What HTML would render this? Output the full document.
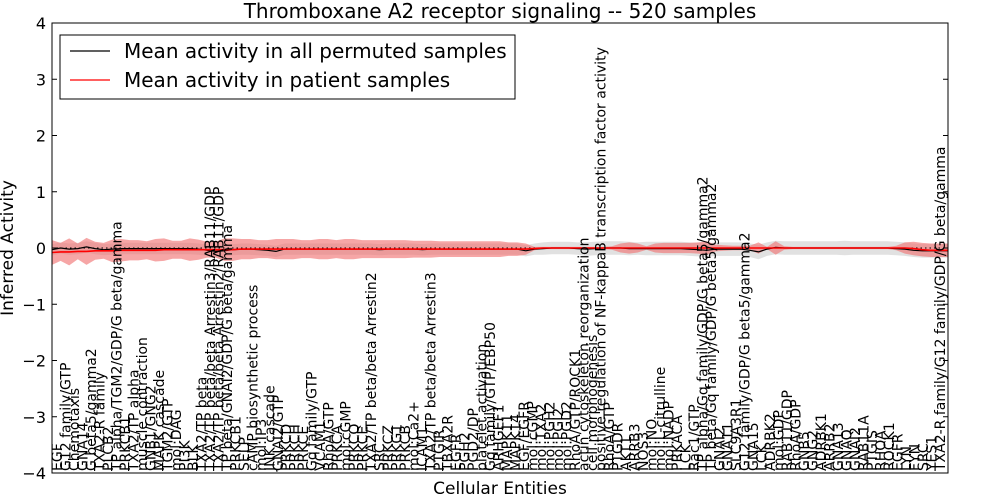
<!DOCTYPE html>
<html><head><meta charset="utf-8"><style>
html,body{margin:0;padding:0;background:#fff;}
svg{display:block;font-family:"DejaVu Sans","Liberation Sans",sans-serif;}
</style></head><body>
<svg id="chart" width="1000" height="500" viewBox="0 0 1000 500">
<defs><clipPath id="pc"><rect x="52" y="23" width="896" height="450"/></clipPath></defs>
<rect x="0" y="0" width="1000" height="500" fill="#fff"/>
<text x="500" y="18" font-size="20" text-anchor="middle">Thromboxane A2 receptor signaling -- 520 samples</text>
<text x="500" y="494" font-size="17" text-anchor="middle">Cellular Entities</text>
<text transform="translate(13,248) rotate(-90)" font-size="17" text-anchor="middle">Inferred Activity</text>
<g id="bands" clip-path="url(#pc)"></g>
<g id="lines" clip-path="url(#pc)"></g>
<g id="labels"></g>
<g id="yaxis"></g>
<rect x="52" y="23" width="896" height="450" fill="none" stroke="#000" stroke-width="1"/>
<g>
<rect x="60" y="35" width="455" height="64" fill="#fff" stroke="#000"/>
<line x1="70" y1="51" x2="110" y2="51" stroke="#000" stroke-width="1.2"/>
<text x="124" y="58" font-size="20">Mean activity in all permuted samples</text>
<line x1="70" y1="80" x2="110" y2="80" stroke="#f00" stroke-width="1.2"/>
<text x="124" y="87" font-size="20">Mean activity in patient samples</text>
</g>
</svg>
<script>
const labels=["EGF","G12 family/GTP","Chemotaxis","GNA14","G beta5/gamma2","TXA2-R family","PLCB2","TP alpha/TGM2/GDP/G beta/gamma","PRKCB1","TXA2/TP alpha","muscle contraction","GNB1/GNG2","MAPK cascade","TGM2/GTP","mol:DAG","PI3K","BLK","TXA2/TP beta","TXA2/TP beta/beta Arrestin3/RAB11/GDP","TXA2/TP beta/beta Arrestin2/RAB11/GDP","TP beta/GNAI2/GDP/G beta/gamma","PRKCB1","SELP","cAMP biosynthetic process","mol:IP3","JNK cascade","GNAI2/GTP","PRKCD","PRKCH","PRKCE","Gq family/GTP","VCAM1","RhoA/GTP","PRKCA","mol:cGMP","PRKCQ","PRKCE","TXA2/TP beta/beta Arrestin2","SRC","PRKCZ","PRKG1","PRKCB","mol:Ca2+","ICAM1","TXA2/TP beta/beta Arrestin3","PTGIR","TBXA2R","EGFR","PGH2","PGD2/DP","platelet activation","Gq family/GTP/EBP50","ARHGEF1","MAPK11","MAPK14","EGF/EGFR","mol:cGMP","mol:TXA2","mol:PGH2","mol:PGI2","mol:PGD2","RhoA/GTP/ROCK1","actin cytoskeleton reorganization","cell morphogenesis","positive regulation of NF-kappaB transcription factor activity","RhoA/GTP","PTGDR","AKT1","ARRB3","NOS3","mol:NO","mol:L-citrulline","mol:NADP","PRKACA","LCK","Rac1/GTP","TP alpha/Gq family/GDP/G beta5/gamma2","TP beta/Gq family/GDP/G beta5/gamma2","GNAI2","GNA11","SLC9A3R1","G12 family/GDP/G beta5/gamma2","GNA15","LCK","ADRBK2","mol:GDP","RAB11/GDP","RhoA/GDP","GNB5","GNG2","ADRBK1","ARRB2","GNA13","GNAQ","GNAI2","RAB11A","PTGIS","RHOA","ROCK1","EGFR","LYN","FYN","SRC","YES1","TXA2-R family/G12 family/GDP/G beta/gamma"];
const redMean=[-0.08,-0.07,-0.07,-0.06,-0.06,-0.05,-0.05,-0.05,-0.04,-0.04,-0.04,-0.04,-0.04,-0.03,-0.03,-0.03,-0.03,-0.03,-0.03,-0.03,-0.03,-0.03,-0.02,-0.02,-0.02,-0.02,-0.02,-0.02,-0.02,-0.02,-0.02,-0.02,-0.02,-0.02,-0.02,-0.02,-0.02,-0.02,-0.02,-0.02,-0.02,-0.02,-0.02,-0.02,-0.02,-0.02,-0.02,-0.02,-0.02,-0.02,-0.02,-0.02,-0.02,-0.02,-0.02,-0.02,-0.01,0,0,0,0,0,0,0,0,0,0,0,0,0,0,0,0,0,0,0,0,0,0,0,0,0,0,0,0,0,0,0,0,0,0,0,0,0,0,0,0,0,0,0,-0.01,-0.03,-0.04,-0.04,-0.04,-0.04,-0.04];
const blackMean=[-0.03,0.0,-0.02,-0.01,0.02,-0.01,-0.03,-0.02,-0.01,-0.01,-0.01,-0.01,-0.01,-0.01,-0.01,-0.01,-0.01,-0.02,-0.04,-0.06,-0.05,-0.03,-0.02,-0.02,-0.03,-0.04,-0.06,-0.02,-0.02,-0.02,-0.02,-0.02,-0.02,-0.02,-0.02,-0.02,-0.02,-0.02,-0.03,-0.02,-0.02,-0.02,-0.02,-0.03,-0.02,-0.02,-0.02,-0.02,-0.02,-0.02,-0.02,-0.02,-0.02,-0.02,-0.02,-0.05,-0.02,-0.01,0,0,0,-0.01,-0.02,-0.01,0,0,0,-0.01,-0.01,-0.01,-0.01,-0.01,-0.01,-0.01,-0.02,-0.03,-0.04,-0.02,-0.02,-0.02,-0.02,-0.04,-0.07,-0.02,0.01,0,0,0,0,0,0,0,0,0,0,0,0,0,-0.01,-0.02,-0.04,-0.05,-0.05,-0.05,-0.05,-0.05];
const redSd=[0.22,0.16,0.24,0.14,0.24,0.16,0.14,0.2,0.2,0.18,0.18,0.16,0.2,0.2,0.16,0.16,0.2,0.18,0.14,0.14,0.2,0.2,0.18,0.18,0.16,0.16,0.18,0.18,0.18,0.16,0.16,0.18,0.18,0.16,0.18,0.18,0.16,0.16,0.16,0.16,0.16,0.16,0.15,0.15,0.15,0.14,0.14,0.14,0.14,0.14,0.14,0.14,0.14,0.12,0.12,0.1,0.03,0.02,0.02,0.02,0.02,0.02,0.02,0.02,0.02,0.03,0.08,0.1,0.08,0.03,0.08,0.09,0.09,0.09,0.09,0.1,0.12,0.06,0.05,0.04,0.04,0.04,0.1,0.02,0.12,0.03,0.02,0.02,0.02,0.02,0.02,0.02,0.02,0.02,0.02,0.02,0.02,0.02,0.04,0.1,0.12,0.12,0.12,0.12,0.12,0.12,0.12];
const greySd=[0.1,0.1,0.1,0.1,0.1,0.1,0.1,0.1,0.1,0.1,0.1,0.1,0.1,0.1,0.1,0.1,0.1,0.1,0.1,0.1,0.1,0.1,0.1,0.1,0.1,0.1,0.1,0.1,0.1,0.1,0.1,0.1,0.1,0.1,0.1,0.1,0.1,0.1,0.1,0.1,0.1,0.1,0.1,0.1,0.1,0.1,0.1,0.1,0.1,0.1,0.1,0.1,0.1,0.1,0.1,0.1,0.1,0.11,0.11,0.11,0.11,0.11,0.12,0.12,0.12,0.12,0.12,0.12,0.11,0.12,0.12,0.12,0.12,0.12,0.12,0.12,0.12,0.12,0.12,0.12,0.12,0.12,0.13,0.12,0.12,0.12,0.12,0.12,0.12,0.12,0.12,0.12,0.13,0.12,0.12,0.12,0.12,0.12,0.12,0.12,0.12,0.12,0.12,0.12,0.12,0.12,0.12];
const yTicks=[-4,-3,-2,-1,0,1,2,3,4];
const NS="http://www.w3.org/2000/svg";
const n=labels.length;
const xS=i=>52+i*(948-52)/(n-1);
const yS=v=>248-v*56.25;
function mk(t,a,p){const e=document.createElementNS(NS,t);for(const k in a)e.setAttribute(k,a[k]);p.appendChild(e);return e;}
function band(mean,sd,fill,op,name){
 let d="";
 for(let i=0;i<n;i++)d+=(i?"L":"M")+xS(i).toFixed(1)+","+yS(mean[i]+sd[i]).toFixed(1);
 for(let i=n-1;i>=0;i--)d+="L"+xS(i).toFixed(1)+","+yS(mean[i]-sd[i]).toFixed(1);
 const p=mk("path",{d:d+"Z",fill:fill,"fill-opacity":op,stroke:"none"},document.getElementById("bands"));
 
 
}
band(blackMean,greySd,"#c8c8c8",0.55,"permuted-band");
band(redMean,redSd,"#f07070",0.62,"patient-band");
const L=document.getElementById("lines");
const zl=mk("line",{x1:52,x2:948,y1:yS(0),y2:yS(0),stroke:"#000","stroke-dasharray":"1.5,3","stroke-width":1},L);


function line(arr,col,w,name){
 const p=mk("polyline",{points:arr.map((v,i)=>xS(i).toFixed(1)+","+yS(v).toFixed(1)).join(" "),fill:"none",stroke:col,"stroke-width":w},L);
 
 
}
line(blackMean,"#000",1.2,"permuted-mean-line");
line(redMean,"#f00",1.6,"patient-mean-line");
const LB=document.getElementById("labels");
labels.forEach((s,i)=>{
 const x=52+5+i*(940-57)/(n-1)+5;
 const t=mk("text",{transform:"translate("+x.toFixed(1)+",471) rotate(-90)","font-size":"14"},LB);
 t.textContent=s;
 
 
});
const Y=document.getElementById("yaxis");
yTicks.forEach(v=>{
 const y=yS(v);
 mk("line",{x1:52,x2:57,y1:y,y2:y,stroke:"#000"},Y);
 mk("line",{x1:943,x2:948,y1:y,y2:y,stroke:"#000"},Y);
 const t=mk("text",{x:46,y:y+6,"font-size":"16","text-anchor":"end"},Y);
 t.textContent=(v<0?"\u2212":"")+Math.abs(v);
 
 
});
</script>
</body></html>
